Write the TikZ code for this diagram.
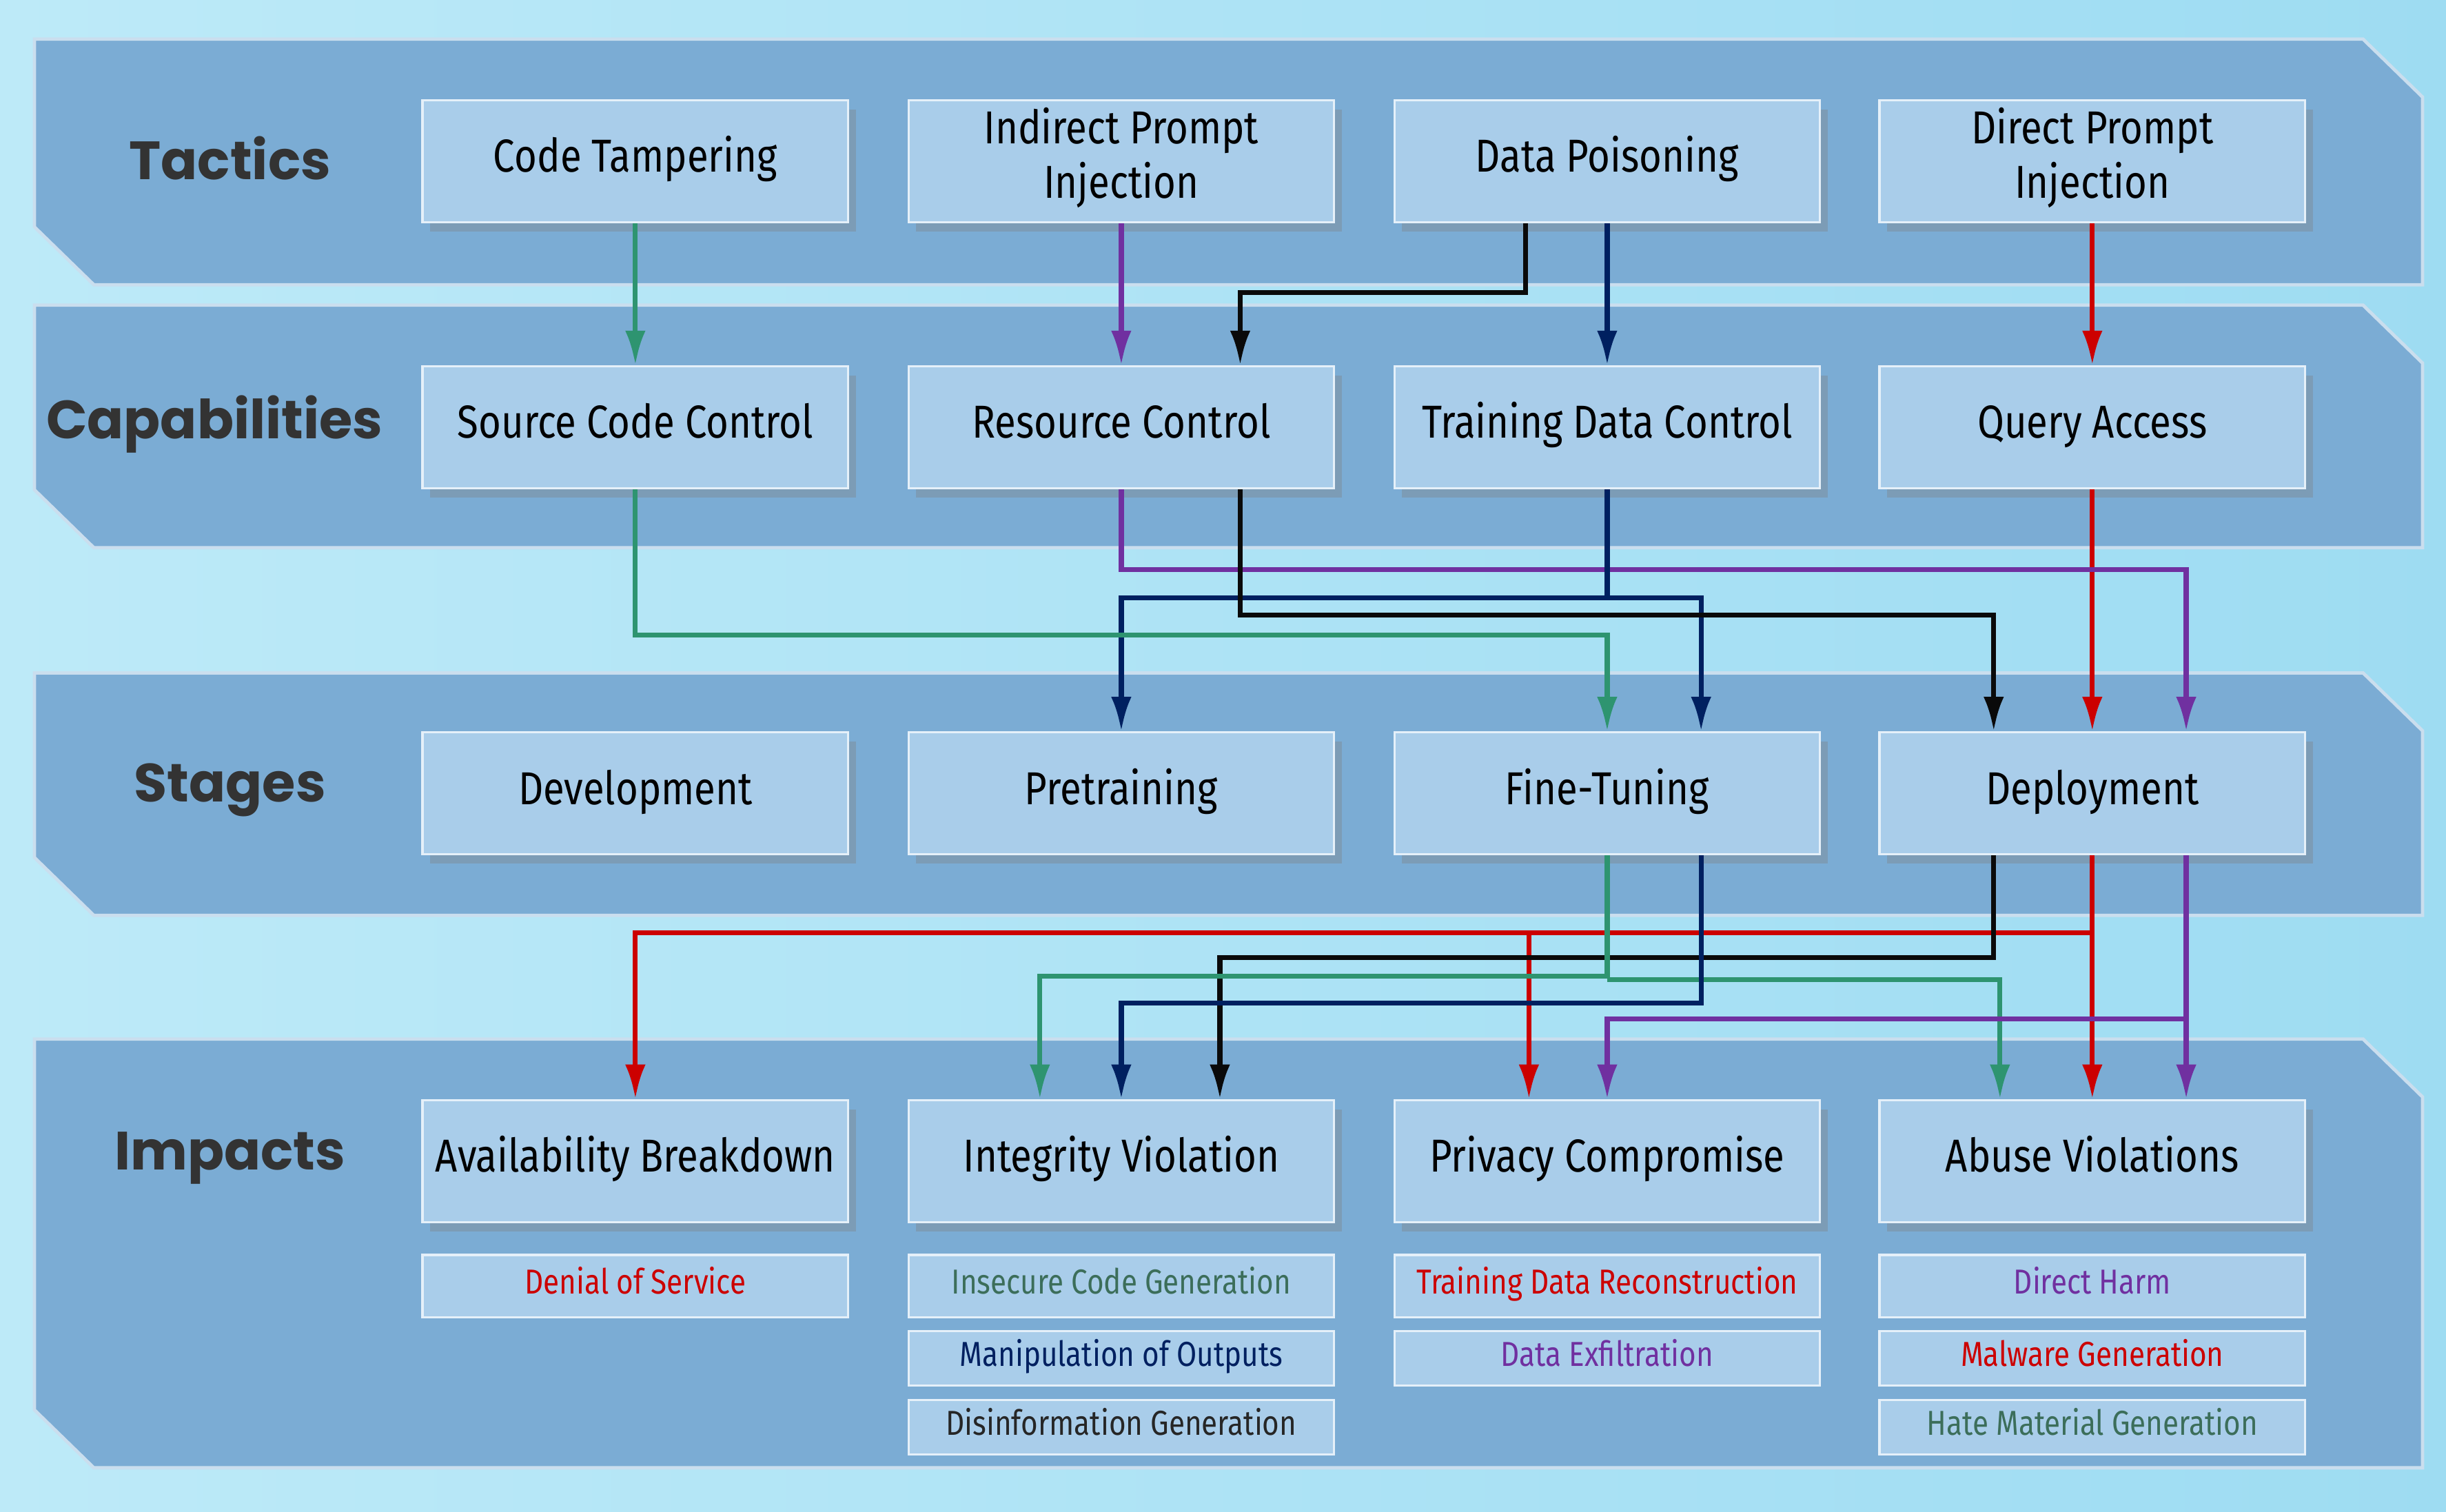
\documentclass[tikz,border=0pt]{standalone}
\usepackage{fontspec}
\setmainfont{Fira Sans}[FakeStretch=0.84]
\newfontfamily\headfont{Poppins}
\usetikzlibrary{positioning, arrows.meta, shadows}
\definecolor{bandblue}{HTML}{7BACD4}
\definecolor{boxblue}{HTML}{A9CDEA}
\definecolor{skyA}{HTML}{BDEAF8}
\definecolor{skyB}{HTML}{9EDCF2}
\definecolor{lgreen}{HTML}{2E9470}
\definecolor{lpurple}{HTML}{7030A0}
\definecolor{lnavy}{HTML}{002060}
\definecolor{lred}{HTML}{CC0000}
\definecolor{lblack}{HTML}{0A0A0A}
\definecolor{tgreen}{HTML}{3C6E5A}
\tikzset{
  box/.style={draw=white!70!boxblue, line width=0.4pt, fill=boxblue, minimum width=2.72cm, minimum height=0.78cm,
    align=center, font=\fontsize{8.4}{10}\selectfont, inner sep=1pt, execute at begin node=\strut,
    drop shadow={shadow xshift=0.5mm, shadow yshift=-0.6mm, opacity=0.35}},
  sub/.style={draw=white!70!boxblue, line width=0.4pt, fill=boxblue, minimum width=2.72cm, minimum height=#1,
    font=\fontsize{6.3}{7}\selectfont, inner sep=1pt, execute at begin node=\strut},
  sub/.default=0.35cm,
  head/.style={font=\headfont\bfseries\fontsize{9.8}{12}\selectfont, text=black!80},
  wire/.style={line width=0.9pt, -{Latex[length=2.2mm, width=1.3mm]}},
}
\newcommand{\band}[2]{%
  \fill[bandblue, draw=white!60!bandblue, line width=0.6pt] (0.22,-#1) -- (15.10,-#1) -- (15.48,-#1-0.37)
    -- (15.48,-#2) -- (0.60,-#2) -- (0.22,-#2+0.37) -- cycle;}
\begin{document}
\begin{tikzpicture}
\shade[left color=skyA, right color=skyB] (0,0) rectangle (15.63,-9.66);
\useasboundingbox (0,0) rectangle (15.63,-9.66);
\band{0.25}{1.82}
\band{1.95}{3.50}
\band{4.30}{5.85}
\band{6.64}{9.38}
% row labels
\node[head] at (1.47,-1.01) {Tactics};
\node[head] at (1.37,-2.71) {Capabilities};
\node[head] at (1.47,-5.05) {Stages};
\node[head] at (1.47,-7.40) {Impacts};
% tactics
\node[box] (ct) at (4.06,-1.03) {Code Tampering};
\node[box] (ip) at (7.165,-1.03) {Indirect Prompt\\Injection};
\node[box] (dp) at (10.27,-1.03) {Data Poisoning};
\node[box] (pi) at (13.37,-1.03) {Direct Prompt\\Injection};
% capabilities
\node[box] (sc) at (4.06,-2.73) {Source Code Control};
\node[box] (rc) at (7.165,-2.73) {Resource Control};
\node[box] (td) at (10.27,-2.73) {Training Data Control};
\node[box] (qa) at (13.37,-2.73) {Query Access};
% stages
\node[box] (dv) at (4.06,-5.07) {Development};
\node[box] (pt) at (7.165,-5.07) {Pretraining};
\node[box] (ft) at (10.27,-5.07) {Fine-Tuning};
\node[box] (dep) at (13.37,-5.07) {Deployment};
% impacts
\node[box] (av) at (4.06,-7.42) {Availability Breakdown};
\node[box] (iv) at (7.165,-7.42) {Integrity Violation};
\node[box] (pc) at (10.27,-7.42) {Privacy Compromise};
\node[box] (ab) at (13.37,-7.42) {Abuse Violations};
% impact examples
\node[sub=0.40cm, text=lred] (dos) at (4.06,-8.22) {Denial of Service};
\node[sub=0.40cm, text=tgreen] (icg) at (7.165,-8.22) {Insecure Code Generation};
\node[sub, text=lnavy] (mo) at (7.165,-8.68) {Manipulation of Outputs};
\node[sub, text=black!85] (dg) at (7.165,-9.12) {Disinformation Generation};
\node[sub=0.40cm, text=lred] (tdr) at (10.27,-8.22) {Training Data Reconstruction};
\node[sub, text=lpurple] (de) at (10.27,-8.68) {Data Exfiltration};
\node[sub=0.40cm, text=lpurple] (dh) at (13.37,-8.22) {Direct Harm};
\node[sub, text=lred] (mg) at (13.37,-8.68) {Malware Generation};
\node[sub, text=tgreen] (hm) at (13.37,-9.12) {Hate Material Generation};
% tactics -> capabilities
\draw[wire, lgreen] (ct.south) -- (sc.north);
\draw[wire, lpurple] (ip.south) -- (rc.north);
\draw[wire, lnavy] (dp.south) -- (td.north);
\draw[wire, lred] (pi.south) -- (qa.north);
\draw[wire, lblack] ([xshift=-5.2mm]dp.south) -- ([xshift=-5.2mm]dp.south |- 0,-1.87) -| ([xshift=7.6mm]rc.north);
% capabilities -> stages
\draw[wire, lred] (qa.south) -- (dep.north);
\draw[wire, lpurple] (rc.south) -- (rc.south |- 0,-3.64) -| ([xshift=6mm]dep.north);
\draw[wire, lnavy] (td.south) -- (td.south |- 0,-3.82) -| (pt.north);
\draw[wire, lnavy] (td.south |- 0,-3.82) -| ([xshift=6mm]ft.north);
\draw[wire, lblack] ([xshift=7.6mm]rc.south) -- ([xshift=7.6mm]rc.south |- 0,-3.93) -| ([xshift=-6.3mm]dep.north);
\draw[wire, lgreen] (sc.south) -- (sc.south |- 0,-4.06) -| (ft.north);
% stages -> impacts
\draw[wire, lred] (dep.south) -- (ab.north);
\draw[wire, lred] (dep.south |- 0,-5.96) -| (av.north);
\draw[wire, lred] ([xshift=-5mm]pc.north |- 0,-5.96) -- ([xshift=-5mm]pc.north);
\draw[wire, lblack] ([xshift=-6.3mm]dep.south) -- ([xshift=-6.3mm]dep.south |- 0,-6.12) -| ([xshift=6.3mm]iv.north);
\draw[wire, lgreen] (ft.south) -- (ft.south |- 0,-6.24) -| ([xshift=-5.2mm]iv.north);
\draw[wire, lgreen] (ft.south |- 0,-6.26) -| ([xshift=-5.9mm]ab.north);
\draw[wire, lnavy] ([xshift=6mm]ft.south) -- ([xshift=6mm]ft.south |- 0,-6.41) -| (iv.north);
\draw[wire, lpurple] ([xshift=6mm]dep.south) -- ([xshift=6mm]ab.north);
\draw[wire, lpurple] ([xshift=6mm]dep.south |- 0,-6.51) -| (pc.north);
\end{tikzpicture}
\end{document}
